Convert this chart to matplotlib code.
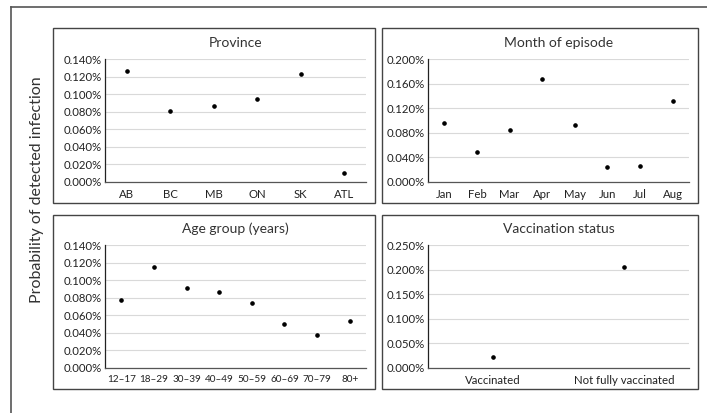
import matplotlib
matplotlib.use("Agg")
import matplotlib.pyplot as plt
from matplotlib.patches import Rectangle
from matplotlib.lines import Line2D
from matplotlib.ticker import FuncFormatter

plt.rcParams['font.family'] = ['Lato', 'DejaVu Sans']

# data (probability, %)
provinces = ["AB", "BC", "MB", "ON", "SK", "ATL"]
province_vals = [0.126, 0.081, 0.086, 0.094, 0.123, 0.010]

months = ["Jan", "Feb", "Mar", "Apr", "May", "Jun", "Jul", "Aug"]
month_vals = [0.096, 0.049, 0.085, 0.168, 0.093, 0.024, 0.026, 0.132]

ages = ["12\u201317", "18\u201329", "30\u201339", "40\u201349", "50\u201359",
        "60\u201369", "70\u201379", "80+"]
age_vals = [0.077, 0.115, 0.091, 0.086, 0.074, 0.050, 0.037, 0.054]

vacc = ["Vaccinated", "Not fully vaccinated"]
vacc_vals = [0.023, 0.205]

W, H = 707, 413
fig = plt.figure(figsize=(W / 100, H / 100), dpi=100)

def px(x0, y0, x1, y1):
    # pixel box (top-left origin) -> figure fraction
    return [x0 / W, 1 - y1 / H, (x1 - x0) / W, (y1 - y0) / H]

# outer frame (top and left edges only, rest is cut off)
fig.add_artist(Line2D([11 / W, 1], [1 - 7 / H, 1 - 7 / H], color="#555555", lw=1.2))
fig.add_artist(Line2D([11 / W, 11 / W], [0, 1 - 7 / H], color="#555555", lw=1.2))

fig.text(37 / W, 1 - 190 / H, "Probability of detected infection", rotation=90,
         ha="center", va="center", fontsize=11.5, color="#333333")

panels = [
    ("Province", provinces, province_vals, 0.14, 0.02, 8.2, (53, 28, 375, 203), (105, 59, 366, 182)),
    ("Month of episode", months, month_vals, 0.20, 0.04, 8.2, (382, 28, 698, 203), (428, 59, 689, 182)),
    ("Age group (years)", ages, age_vals, 0.14, 0.02, 7.2, (53, 215, 375, 389), (105, 245, 366, 368)),
    ("Vaccination status", vacc, vacc_vals, 0.25, 0.05, 8.2, (382, 215, 698, 389), (428, 245, 689, 368)),
]

for title, cats, vals, ymax, step, xsize, box, area in panels:
    bx0, by0, bx1, by1 = box
    r = Rectangle((bx0 / W, 1 - by1 / H), (bx1 - bx0) / W, (by1 - by0) / H,
                  transform=fig.transFigure, fill=False, edgecolor="#444444", lw=1.0)
    fig.add_artist(r)

    ax = fig.add_axes(px(*area))
    x = list(range(len(cats)))
    ax.plot(x, vals, "o", color="black", markersize=2.3, linestyle="none", zorder=3)
    ax.set_xlim(-0.5, len(cats) - 0.5)
    ax.set_ylim(0, ymax)
    n = int(round(ymax / step))
    ax.set_yticks([i * step for i in range(n + 1)])
    ax.yaxis.set_major_formatter(FuncFormatter(lambda v, p: "{:.3f}%".format(v)))
    ax.set_xticks(x)
    ax.set_xticklabels(cats)
    ax.tick_params(length=0, colors="#222222")
    ax.tick_params(axis="y", labelsize=8.2, pad=2)
    ax.tick_params(axis="x", labelsize=xsize, pad=5)
    ax.grid(axis="y", color="#d9d9d9", lw=0.8)
    ax.set_axisbelow(True)
    for s in ["top", "right"]:
        ax.spines[s].set_visible(False)
    ax.spines["left"].set_color("#222222")
    ax.spines["left"].set_linewidth(0.9)
    ax.spines["bottom"].set_color("#555555")
    ax.spines["bottom"].set_linewidth(0.9)

    ax0, ay0, ax1, ay1 = area
    fig.text((ax0 + ax1) / 2 / W, 1 - (ay0 - 16) / H, title, ha="center", va="center",
             fontsize=10, color="#333333")

fig.savefig("out.png", dpi=100)
